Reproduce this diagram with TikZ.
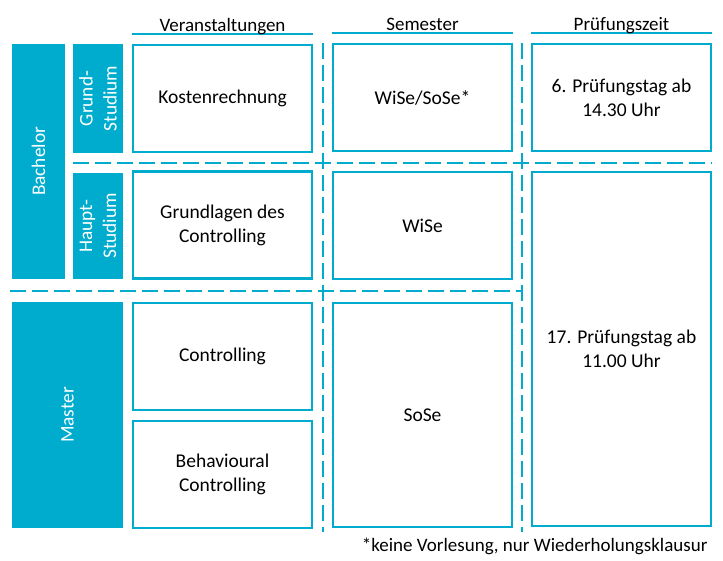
\documentclass[tikz,border=0pt]{standalone}
\usepackage{fontspec}
\setmainfont{Carlito}
\usetikzlibrary{arrows,positioning}
\definecolor{uniblau}{RGB}{0,172,205}
\tikzset{
    %Define standard arrow tip
    >=stealth',
    %Define style for course boxes
    fach/.style={
           draw=uniblau,
           line width=2.5pt,
           minimum width=179pt,
           minimum height=107pt,
           inner sep=0pt,
           align=center,
           font=\fontsize{19.5}{24}\selectfont,},
    %Define style for the filled side boxes
    stufe/.style={
           fill=uniblau,
           text=white,
           rotate=90,
           inner sep=0pt,
           align=center,
           font=\fontsize{19.3}{24}\selectfont,},
    %Define style for column heads
    kopf/.style={
           text height=14pt,
           text depth=4pt,
           font=\fontsize{19}{22}\selectfont,},
    strich/.style={
           draw=uniblau,
           line width=2pt,},
    trenn/.style={
           draw=uniblau,
           line width=2pt,
           dash pattern=on 16pt off 6pt,}
}
\begin{document}
\begin{tikzpicture}[x=1pt, y=-1pt]
 \useasboundingbox (0,0) rectangle (723,561);
 %separators
 \draw[trenn] (73,163) -- (712,163);
 \draw[trenn] (10,291) -- (522,291);
 \draw[trenn] (322.5,43) -- (322.5,532);
 \draw[trenn] (521.5,43) -- (521.5,532);

 %side boxes
 \node[stufe, minimum width=235pt, minimum height=53pt] (bachelor) at (38.5,161.5) {Bachelor};
 \node[stufe, minimum width=109pt, minimum height=50pt] (grund) at (98,98.5) {Grund-\\Studium};
 \node[stufe, minimum width=106pt, minimum height=50pt] (haupt) at (98,226) {Haupt-\\Studium};
 \node[stufe, minimum width=226pt, minimum height=111pt] (master) at (67.5,415) {Master};

 %courses
 \node[fach] (kosten) at (222.5,98.5) {Kostenrechnung};
 \node[fach] (grundlagen) at (222.5,225) {Grundlagen des\\Controlling};
 \node[fach] (controlling) at (222.5,356.5) {Controlling};
 \node[fach] (behav) at (222.5,474.5) {Behavioural\\Controlling};

 %semester
 \node[fach] (wisose) at (422.5,97.5) {WiSe/SoSe*};
 \node[fach] (wise) at (422.5,225.5) {WiSe};
 \node[fach, minimum height=224pt] (sose) at (422.5,415) {SoSe};

 %exam dates
 \node[fach] (tag6) at (621.5,97.5) {6. Prüfungstag ab\\14.30 Uhr};
 \node[fach, minimum height=354pt] (tag17) at (621.5,349) {17. Prüfungstag ab\\11.00 Uhr};

 %heads
 \draw[strich] ([yshift=9.5pt]kosten.north west) -- ([yshift=9.5pt]kosten.north east);
 \draw[strich] ([yshift=9.5pt]wisose.north west) -- ([yshift=9.5pt]wisose.north east);
 \draw[strich] ([yshift=9.5pt]tag6.north west) -- ([yshift=9.5pt]tag6.north east);
 \node[kopf, above=5pt of kosten] (veranst) {Veranstaltungen};
 \node[kopf, above=5pt of wisose] (semester) {Semester};
 \node[kopf, above=5pt of tag6] (pruefzeit) {Prüfungszeit};

 %footnote
 \node[kopf, anchor=east] (fussnote) at (711,546) {*keine Vorlesung, nur Wiederholungsklausur};
\end{tikzpicture}
\end{document}
